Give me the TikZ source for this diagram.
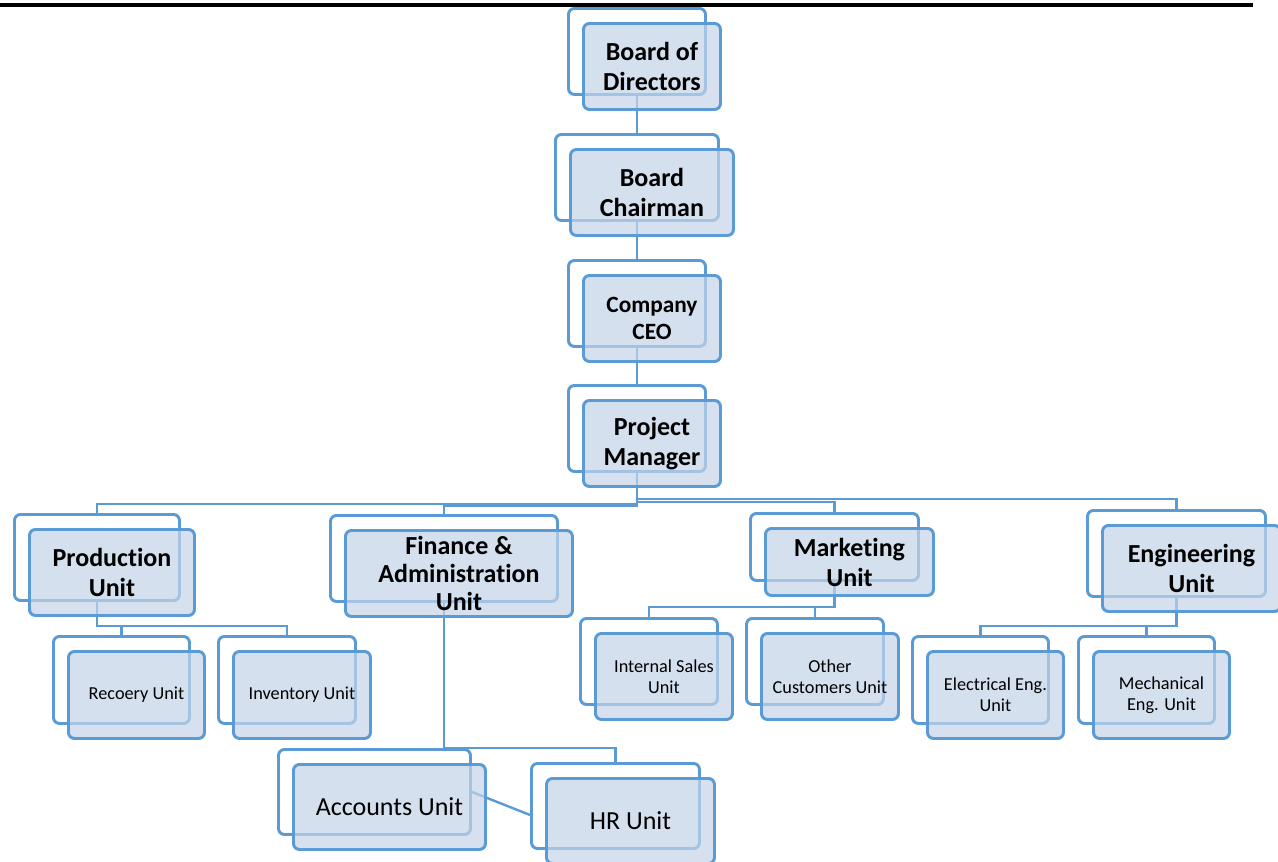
\documentclass[tikz,border=0pt]{standalone}
\usepackage{fontspec}
\setmainfont{Carlito}[Ligatures=NoCommon]
\usetikzlibrary{calc}
\pgfdeclarelayer{bg}
\pgfsetlayers{bg,main}
\definecolor{unitline}{RGB}{91,155,213}
\definecolor{unitfill}{RGB}{196,211,231}
\tikzset{
  backbox/.style={draw=unitline, line width=2.2pt, fill=white, rounded corners=4.5pt,
    inner sep=0pt, anchor=north west},
  frontbox/.style={draw=unitline, line width=2.2pt, fill=unitfill, fill opacity=0.7,
    text opacity=1, rounded corners=4.5pt, inner sep=0pt, align=center, anchor=center},
  link/.style={draw=unitline, line width=1.8pt},
  headfont/.style={font=\fontsize{19.5}{22.5}\selectfont\bfseries},
  finfont/.style={font=\fontsize{19.5}{21}\selectfont\bfseries},
  ceofont/.style={font=\fontsize{17.5}{20.5}\selectfont\bfseries},
  subfont/.style={font=\fontsize{13.7}{15.75}\selectfont},
  plainfont/.style={font=\fontsize{19.5}{22.5}\selectfont},
}
% #1 name, #2 #3 top-left of the back card, #4 width, #5 height (px), #6 font style, #7 text
\newcommand\orgunit[7]{%
  \node[backbox, minimum width=#4*0.75pt, minimum height=#5*0.75pt] (#1-b) at (#2,#3) {};
  \node[frontbox, minimum width=#4*0.75pt, minimum height=#5*0.75pt, #6]
    (#1) at ([shift={(15,15)}]#1-b.center) {#7};
}
\begin{document}
\begin{tikzpicture}[x=0.75pt, y=-0.75pt]
\useasboundingbox (0,0) rectangle (1278,861);

% header rule
\draw[line width=2.4pt] (0,5) -- (1253,5);

% top chain
\orgunit{bod}{567}{7}{137}{86}{headfont}{Board of\\Directors}
\orgunit{bc}{554}{133}{163}{86}{headfont}{Board\\Chairman}
\orgunit{ceo}{567}{259}{137}{86}{ceofont}{Company\\CEO}
\orgunit{pm}{567}{384}{137}{86}{headfont}{Project\\Manager}

% departments
\orgunit{prod}{13}{513}{165}{86}{headfont}{Production\\Unit}
\orgunit{fin}{329}{514}{227}{86}{finfont}{Finance \&\\Administration\\Unit}
\orgunit{mkt}{749}{512}{168}{67}{headfont}{Marketing\\Unit}
\orgunit{eng}{1086}{509}{178}{86}{headfont}{Engineering\\Unit}

% sub-units
\orgunit{rec}{52}{635}{136}{87}{subfont}{Recoery Unit}
\orgunit{inv}{217}{635}{137}{87}{subfont}{Inventory Unit}
\orgunit{isu}{579}{617}{137}{86}{subfont}{Internal Sales\\Unit}
\orgunit{ocu}{745}{617}{137}{86}{subfont}{Other\\Customers Unit}
\orgunit{ele}{911}{635}{136}{87}{subfont}{Electrical Eng.\\Unit}
\orgunit{mec}{1077}{635}{136}{87}{subfont}{Mechanical\\Eng. Unit}
\orgunit{acc}{277}{748}{192}{85}{plainfont}{Accounts Unit}
\orgunit{hr}{530}{762}{168}{85}{plainfont}{HR Unit}

% connectors, under the cards
\begin{pgfonlayer}{bg}
\draw[link] (bod-b.south) -- (bc-b.north);
\draw[link] (bc-b.south) -- (ceo-b.north);
\draw[link] (ceo-b.south) -- (pm-b.north);
\draw[link] (pm-b.south) -- ++(0,31) -| (prod-b.north);
\draw[link] (pm-b.south) -- ++(0,33) -| (fin-b.north);
\draw[link] (pm-b.south) -- ++(0,29) -| (mkt-b.north);
\draw[link] (pm-b.south) -- ++(0,26) -| (eng-b.north);
\draw[link] (prod-b.south) -- ++(0,24) -| (rec-b.north);
\draw[link] (prod-b.south) -- ++(0,24) -| (inv-b.north);
\draw[link] (mkt-b.south) -- ++(0,25) -| (isu-b.north);
\draw[link] (mkt-b.south) -- ++(0,25) -| (ocu-b.north);
\draw[link] (eng-b.south) -- ++(0,28) -| (ele-b.north);
\draw[link] (eng-b.south) -- ++(0,28) -| (mec-b.north);
\draw[link] (fin-b.south) -- (fin-b.south |- acc-b.north);
\draw[link] (fin-b.south |- acc-b.north) -| (hr-b.north);
\draw[link] (acc-b.east) -- (hr-b.186);
\end{pgfonlayer}
\end{tikzpicture}
\end{document}
